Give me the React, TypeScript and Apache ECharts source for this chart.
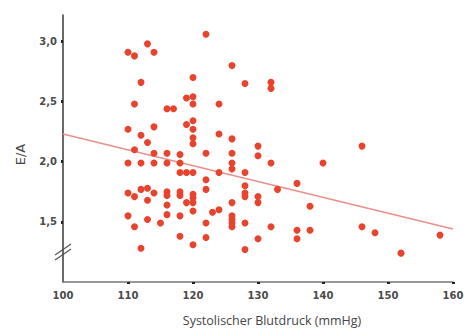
import React, { useEffect, useRef } from "react";
import * as echarts from "echarts";

// Systolic blood pressure (mmHg) with the E/A values measured at that pressure
const groups: [number, number[]][] = [
  [110, [2.91, 2.27, 1.99, 1.74, 1.55]],
  [111, [2.88, 2.48, 2.1, 1.71, 1.46]],
  [112, [2.66, 2.22, 1.99, 1.77, 1.28]],
  [113, [2.98, 2.16, 1.78, 1.68, 1.52]],
  [114, [2.91, 2.29, 2.07, 1.99, 1.74]],
  [115, [1.49]],
  [116, [2.44, 2.07, 1.99, 1.75, 1.72, 1.64, 1.56]],
  [117, [2.44]],
  [118, [2.06, 1.99, 1.91, 1.75, 1.72, 1.55, 1.38]],
  [119, [2.53, 2.31, 1.91, 1.66]],
  [120, [2.7, 2.54, 2.48, 2.34, 2.27, 2.2, 2.15, 1.91, 1.73, 1.7, 1.66, 1.59, 1.31]],
  [122, [3.06, 2.07, 1.85, 1.77, 1.49, 1.37]],
  [123, [1.58]],
  [124, [2.48, 2.23, 1.91, 1.6]],
  [126, [2.8, 2.19, 2.07, 1.99, 1.94, 1.66, 1.55, 1.52, 1.49, 1.46]],
  [128, [2.65, 1.91, 1.8, 1.74, 1.71, 1.49, 1.27]],
  [130, [2.13, 2.05, 1.71, 1.66, 1.36]],
  [132, [2.66, 2.61, 1.99, 1.46]],
  [133, [1.77]],
  [136, [1.82, 1.43, 1.36]],
  [138, [1.63, 1.43]],
  [140, [1.99]],
  [146, [2.13, 1.46]],
  [148, [1.41]],
  [152, [1.24]],
  [158, [1.39]],
];

const trendX = [100, 160];
const trendY = [2.23, 1.44];

const xLabelValues = [100, 110, 120, 130, 140, 150, 160];
const xTickValues = [110, 120, 130, 140, 150, 160];
const yTickValues = [1.5, 2.0, 2.5, 3.0];
const breakValue = 1.25;

export default function App() {
  const ref = useRef<HTMLDivElement>(null);

  useEffect(() => {
    if (!ref.current) return;
    document.body.style.margin = "0";
    document.body.style.overflow = "hidden";
    const chart = echarts.init(ref.current, null, { renderer: "svg" });
    const points: [number, number][] = [];
    groups.forEach(([x, ys]) => ys.forEach((y) => points.push([x, y])));
    const labelFont = {
      fontFamily: "DejaVu Sans",
      fontSize: 10,
      fontWeight: "bold" as const,
      color: "#4a4a4a",
    };
    chart.setOption({
      animation: false,
      backgroundColor: "#ffffff",
      grid: { left: 63, right: 14, top: 15, bottom: 46, containLabel: false },
      xAxis: {
        type: "value",
        min: 100,
        max: 160,
        name: "Systolischer Blutdruck (mmHg)",
        nameLocation: "middle",
        nameGap: 32,
        nameTextStyle: {
          fontFamily: "Open Sans",
          fontSize: 12.5,
          color: "#444",
          padding: [0, 0, 0, 28],
        },
        axisLine: { show: true, lineStyle: { color: "#777", width: 1.6 } },
        axisTick: {
          show: true,
          customValues: xTickValues,
          length: 2,
          lineStyle: { color: "#222", width: 3 },
        },
        axisLabel: { customValues: xLabelValues, margin: 8, ...labelFont },
        splitLine: { show: false },
      },
      yAxis: {
        type: "value",
        min: 1.0,
        max: 3.22,
        name: "E/A",
        nameLocation: "middle",
        nameGap: 36,
        nameRotate: 90,
        nameTextStyle: {
          fontFamily: "DejaVu Sans",
          fontSize: 13,
          color: "#444",
          padding: [0, 12, 0, 0],
        },
        axisLine: { show: true, lineStyle: { color: "#444", width: 1.6 } },
        axisTick: {
          show: true,
          customValues: yTickValues,
          length: 2,
          lineStyle: { color: "#222", width: 3 },
        },
        axisLabel: {
          customValues: yTickValues,
          margin: 6,
          formatter: (v: number) => v.toFixed(1).replace(".", ","),
          ...labelFont,
        },
        splitLine: { show: false },
      },
      series: [
        {
          type: "line",
          data: trendX.map((x, i) => [x, trendY[i]]),
          symbol: "none",
          lineStyle: { color: "#eb8f8a", width: 1.5 },
          z: 1,
        },
        {
          type: "scatter",
          data: points,
          symbolSize: 7,
          itemStyle: { color: "#e8432c", opacity: 1 },
          z: 2,
        },
      ],
    });
    const p = chart.convertToPixel({ gridIndex: 0 }, [100, breakValue]) as number[];
    if (p) {
      const [cx, cy] = p;
      chart.setOption({
        graphic: [
          {
            type: "line",
            shape: { x1: cx - 8, y1: cy + 3, x2: cx + 8, y2: cy - 8 },
            style: { stroke: "#555", lineWidth: 1.2 },
            z: 10,
          },
          {
            type: "line",
            shape: { x1: cx - 8, y1: cy + 8, x2: cx + 8, y2: cy - 3 },
            style: { stroke: "#555", lineWidth: 1.2 },
            z: 10,
          },
        ],
      });
    }
    return () => chart.dispose();
  }, []);

  return (
    <div
      ref={ref}
      style={{ position: "absolute", left: 0, top: 0, width: 467, height: 332 }}
    />
  );
}
